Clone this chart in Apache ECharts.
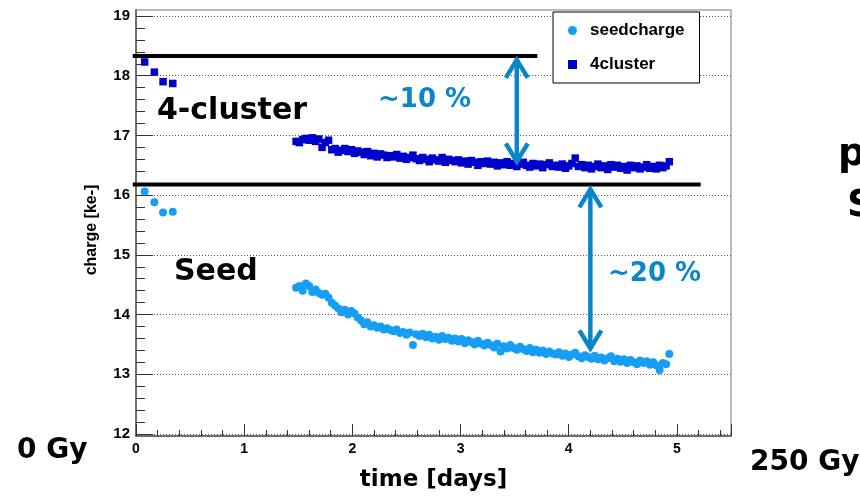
<!DOCTYPE html>
<html>
<head>
<meta charset="utf-8">
<script src="https://cdn.jsdelivr.net/npm/echarts@6/dist/echarts.min.js"></script>
<style>html,body{margin:0;padding:0;background:#fff;}#c{width:860px;height:497px;}</style>
</head>
<body>
<div id="c"></div>
<script>
// time [days]
const times = [
  0.08, 0.17, 0.25, 0.34,
  1.48, 1.51, 1.54, 1.57, 1.60, 1.63, 1.66, 1.69, 1.72, 1.75,
  1.78, 1.81, 1.84, 1.87, 1.90, 1.93, 1.96, 1.99, 2.02, 2.05,
  2.08, 2.11, 2.14, 2.17, 2.20, 2.23, 2.26, 2.29, 2.32, 2.35,
  2.38, 2.41, 2.44, 2.47, 2.50, 2.53, 2.56, 2.59, 2.62, 2.65,
  2.68, 2.71, 2.74, 2.77, 2.80, 2.83, 2.86, 2.89, 2.92, 2.95,
  2.98, 3.01, 3.04, 3.07, 3.10, 3.13, 3.16, 3.19, 3.22, 3.25,
  3.28, 3.31, 3.34, 3.37, 3.40, 3.43, 3.46, 3.49, 3.52, 3.55,
  3.58, 3.61, 3.64, 3.67, 3.70, 3.73, 3.76, 3.79, 3.82, 3.85,
  3.88, 3.91, 3.94, 3.97, 4.00, 4.03, 4.06, 4.09, 4.12, 4.15,
  4.18, 4.21, 4.24, 4.27, 4.30, 4.33, 4.36, 4.39, 4.42, 4.45,
  4.48, 4.51, 4.54, 4.57, 4.60, 4.63, 4.66, 4.69, 4.72, 4.75,
  4.78, 4.81, 4.84, 4.87, 4.90, 4.93
];
// 4cluster charge [ke-]
const clusterCharge = [
  18.23, 18.06, 17.90, 17.87,
  16.90, 16.88, 16.93, 16.95, 16.92, 16.96, 16.90, 16.94, 16.80, 16.88,
  16.92, 16.76, 16.78, 16.72, 16.75, 16.78, 16.73, 16.76, 16.70, 16.74,
  16.72, 16.68, 16.73, 16.66, 16.70, 16.64, 16.69, 16.67, 16.63, 16.66,
  16.64, 16.68, 16.62, 16.65, 16.60, 16.63, 16.67, 16.61, 16.58, 16.63,
  16.60, 16.56, 16.62, 16.59, 16.57, 16.63, 16.55, 16.60, 16.58, 16.56,
  16.59, 16.54, 16.57, 16.52, 16.58, 16.55, 16.50, 16.56, 16.53, 16.57,
  16.52, 16.55, 16.49, 16.54, 16.51, 16.56, 16.50, 16.53, 16.48, 16.52,
  16.55, 16.50, 16.47, 16.53, 16.49, 16.52, 16.46, 16.51, 16.54, 16.48,
  16.50, 16.47, 16.52, 16.45, 16.49, 16.53, 16.62, 16.48, 16.51, 16.46,
  16.50, 16.44, 16.48, 16.52, 16.46, 16.49, 16.43, 16.51, 16.47, 16.50,
  16.45, 16.48, 16.42, 16.50, 16.46, 16.49, 16.44, 16.47, 16.51, 16.45,
  16.48, 16.44, 16.50, 16.46, 16.49, 16.56
];
// seedcharge [ke-]
const seedCharge = [
  16.06, 15.88, 15.71, 15.72,
  14.45, 14.48, 14.40, 14.52, 14.48, 14.38, 14.42, 14.36, 14.33, 14.35,
  14.28, 14.20, 14.15, 14.10, 14.04, 14.08, 14.00, 14.06, 14.02, 13.95,
  13.90, 13.84, 13.87, 13.80, 13.82, 13.78, 13.80, 13.75, 13.77, 13.74,
  13.72, 13.75, 13.69, 13.71, 13.66, 13.70, 13.49, 13.67, 13.64, 13.68,
  13.62, 13.66, 13.60, 13.63, 13.58, 13.64, 13.59, 13.61, 13.56, 13.60,
  13.55, 13.59, 13.52, 13.57, 13.54, 13.50, 13.56, 13.51, 13.48, 13.53,
  13.49, 13.45, 13.51, 13.38, 13.47, 13.43, 13.49, 13.44, 13.41, 13.46,
  13.42, 13.39, 13.44, 13.37, 13.41, 13.36, 13.40, 13.34, 13.38, 13.35,
  13.33, 13.37, 13.31, 13.35, 13.29, 13.33, 13.36, 13.30, 13.27, 13.32,
  13.29, 13.26, 13.31, 13.25, 13.28, 13.23, 13.27, 13.30, 13.22, 13.26,
  13.21, 13.25, 13.19, 13.24, 13.20, 13.17, 13.23, 13.19, 13.22, 13.16,
  13.20, 13.15, 13.07, 13.19, 13.17, 13.34
];
// reference lines: [xStart, xEnd, level]
const refLines = [[-0.03, 3.71, 18.33], [-0.03, 5.22, 16.18]];
// arrows: [x, yTop, yBottom]
const arrows = [[3.52, 18.30, 16.53], [4.20, 16.13, 13.40]];

const seedColor = 'rgb(22,158,245)';
const clusterColor = 'rgb(0,0,205)';
const annColor = '#0a86c8';
const lib = '"Liberation Sans", Arial, sans-serif';
const dv = '"DejaVu Sans", sans-serif';

const chart = echarts.init(document.getElementById('c'), null, {renderer: 'canvas'});

const seedData = times.map((t, i) => [t, seedCharge[i]]);
const clusterData = times.map((t, i) => [t, clusterCharge[i]]);

chart.setOption({
  animation: false,
  backgroundColor: '#fff',
  grid: [
    {left: 136, right: 129, top: 10, bottom: 58, show: true, borderColor: '#bbb', borderWidth: 2, backgroundColor: 'transparent'},
    {left: 136, right: 129, top: 16, bottom: 63}
  ],
  xAxis: [
    {
      gridIndex: 0, type: 'value', min: 0, max: 5.5, interval: 1,
      axisLine: {show: true, lineStyle: {color: '#555', width: 1.5}},
      axisTick: {show: true, inside: true, length: 12, lineStyle: {color: '#333', width: 1}},
      minorTick: {show: true, splitNumber: 5, length: 6, lineStyle: {color: '#333', width: 1}},
      axisLabel: {color: '#000', fontSize: 14, fontWeight: 'bold', fontFamily: lib, margin: 6,
        formatter: v => (Math.abs(v - Math.round(v)) < 1e-6 ? String(Math.round(v)) : '')},
      splitLine: {show: false},
      name: 'time [days]', nameLocation: 'middle', nameGap: 33,
      nameTextStyle: {color: '#000', fontSize: 23, fontWeight: 'bold', fontFamily: dv}
    },
    {gridIndex: 1, type: 'value', min: 0, max: 5.5, show: false}
  ],
  yAxis: [
    {
      gridIndex: 0, type: 'value', min: 11.916, max: 19.1,
      axisLine: {show: true, lineStyle: {color: '#555', width: 1.5}},
      axisTick: {show: false}, axisLabel: {show: false}, splitLine: {show: false}
    },
    {
      gridIndex: 1, type: 'value', min: 12, max: 19, interval: 1,
      axisLine: {show: false},
      axisTick: {show: true, inside: true, length: 17, lineStyle: {color: '#333', width: 1}},
      minorTick: {show: true, splitNumber: 5, length: 9, lineStyle: {color: '#333', width: 1}},
      axisLabel: {color: '#000', fontSize: 15, fontWeight: 'bold', fontFamily: lib, margin: 6},
      splitLine: {show: true, lineStyle: {color: '#555', width: 1, type: [1, 2]}}
    }
  ],
  legend: {
    data: [{name: 'seedcharge', icon: 'circle'}, {name: '4cluster', icon: 'rect'}],
    orient: 'vertical', left: 553, top: 12,
    padding: [10, 15, 10, 15], itemGap: 17, itemWidth: 9, itemHeight: 9,
    backgroundColor: '#fff', borderColor: '#000', borderWidth: 1, borderRadius: 0,
    textStyle: {color: '#000', fontSize: 17, fontWeight: 'bold', fontFamily: lib, padding: [0, 0, 0, 8]}
  },
  series: [
    {
      name: 'seedcharge', type: 'scatter', xAxisIndex: 1, yAxisIndex: 1,
      symbol: 'circle', symbolSize: 8, itemStyle: {color: seedColor, opacity: 1}, data: seedData, z: 3
    },
    {
      name: '4cluster', type: 'scatter', xAxisIndex: 1, yAxisIndex: 1,
      symbol: 'rect', symbolSize: 7.5, itemStyle: {color: clusterColor, opacity: 1}, data: clusterData, z: 3
    },
    {
      name: 'refLines', type: 'custom', xAxisIndex: 1, yAxisIndex: 1, z: 4, clip: false,
      data: refLines,
      renderItem: (params, api) => {
        const a = api.coord([api.value(0), api.value(2)]);
        const b = api.coord([api.value(1), api.value(2)]);
        return {type: 'line', shape: {x1: a[0], y1: a[1], x2: b[0], y2: b[1]},
          style: {stroke: '#000', lineWidth: 4}};
      }
    },
    {
      name: 'arrows', type: 'custom', xAxisIndex: 1, yAxisIndex: 1, z: 5, clip: false,
      data: arrows,
      renderItem: (params, api) => {
        const top = api.coord([api.value(0), api.value(1)]);
        const bot = api.coord([api.value(0), api.value(2)]);
        const st = {stroke: annColor, lineWidth: 4.5, fill: null, lineJoin: 'miter', lineCap: 'butt'};
        return {type: 'group', children: [
          {type: 'line', shape: {x1: top[0], y1: top[1] + 2, x2: bot[0], y2: bot[1] - 2}, style: st},
          {type: 'polyline', shape: {points: [[top[0] - 11, top[1] + 20], [top[0], top[1] + 2], [top[0] + 11, top[1] + 20]]}, style: st},
          {type: 'polyline', shape: {points: [[bot[0] - 11, bot[1] - 20], [bot[0], bot[1] - 2], [bot[0] + 11, bot[1] - 20]]}, style: st}
        ]};
      }
    }
  ],
  graphic: [
    {type: 'text', x: 92, y: 230, rotation: Math.PI / 2,
      style: {text: 'charge [ke-]', font: 'bold 16px ' + lib, fill: '#000', align: 'center', verticalAlign: 'middle'}},
    {type: 'text', x: 157, y: 111, style: {text: '4-cluster', font: 'bold 30px ' + dv, fill: '#000', verticalAlign: 'middle'}},
    {type: 'text', x: 174, y: 272, style: {text: 'Seed', font: 'bold 30px ' + dv, fill: '#000', verticalAlign: 'middle'}},
    {type: 'text', x: 378, y: 100, style: {text: '~10 %', font: 'bold 26px ' + dv, fill: annColor, verticalAlign: 'middle'}},
    {type: 'text', x: 608, y: 274, style: {text: '~20 %', font: 'bold 26px ' + dv, fill: annColor, verticalAlign: 'middle'}},
    {type: 'text', x: 17, y: 451, style: {text: '0 Gy', font: 'bold 28px ' + dv, fill: '#000', verticalAlign: 'middle'}},
    {type: 'text', x: 750, y: 463, style: {text: '250 Gy', font: 'bold 28px ' + dv, fill: '#000', verticalAlign: 'middle'}},
    {type: 'text', x: 838, y: 155, style: {text: 'p', font: 'bold 38px ' + dv, fill: '#000', verticalAlign: 'middle'}},
    {type: 'text', x: 847, y: 206, style: {text: 'S', font: 'bold 38px ' + dv, fill: '#000', verticalAlign: 'middle'}}
  ]
});
</script>
</body>
</html>
